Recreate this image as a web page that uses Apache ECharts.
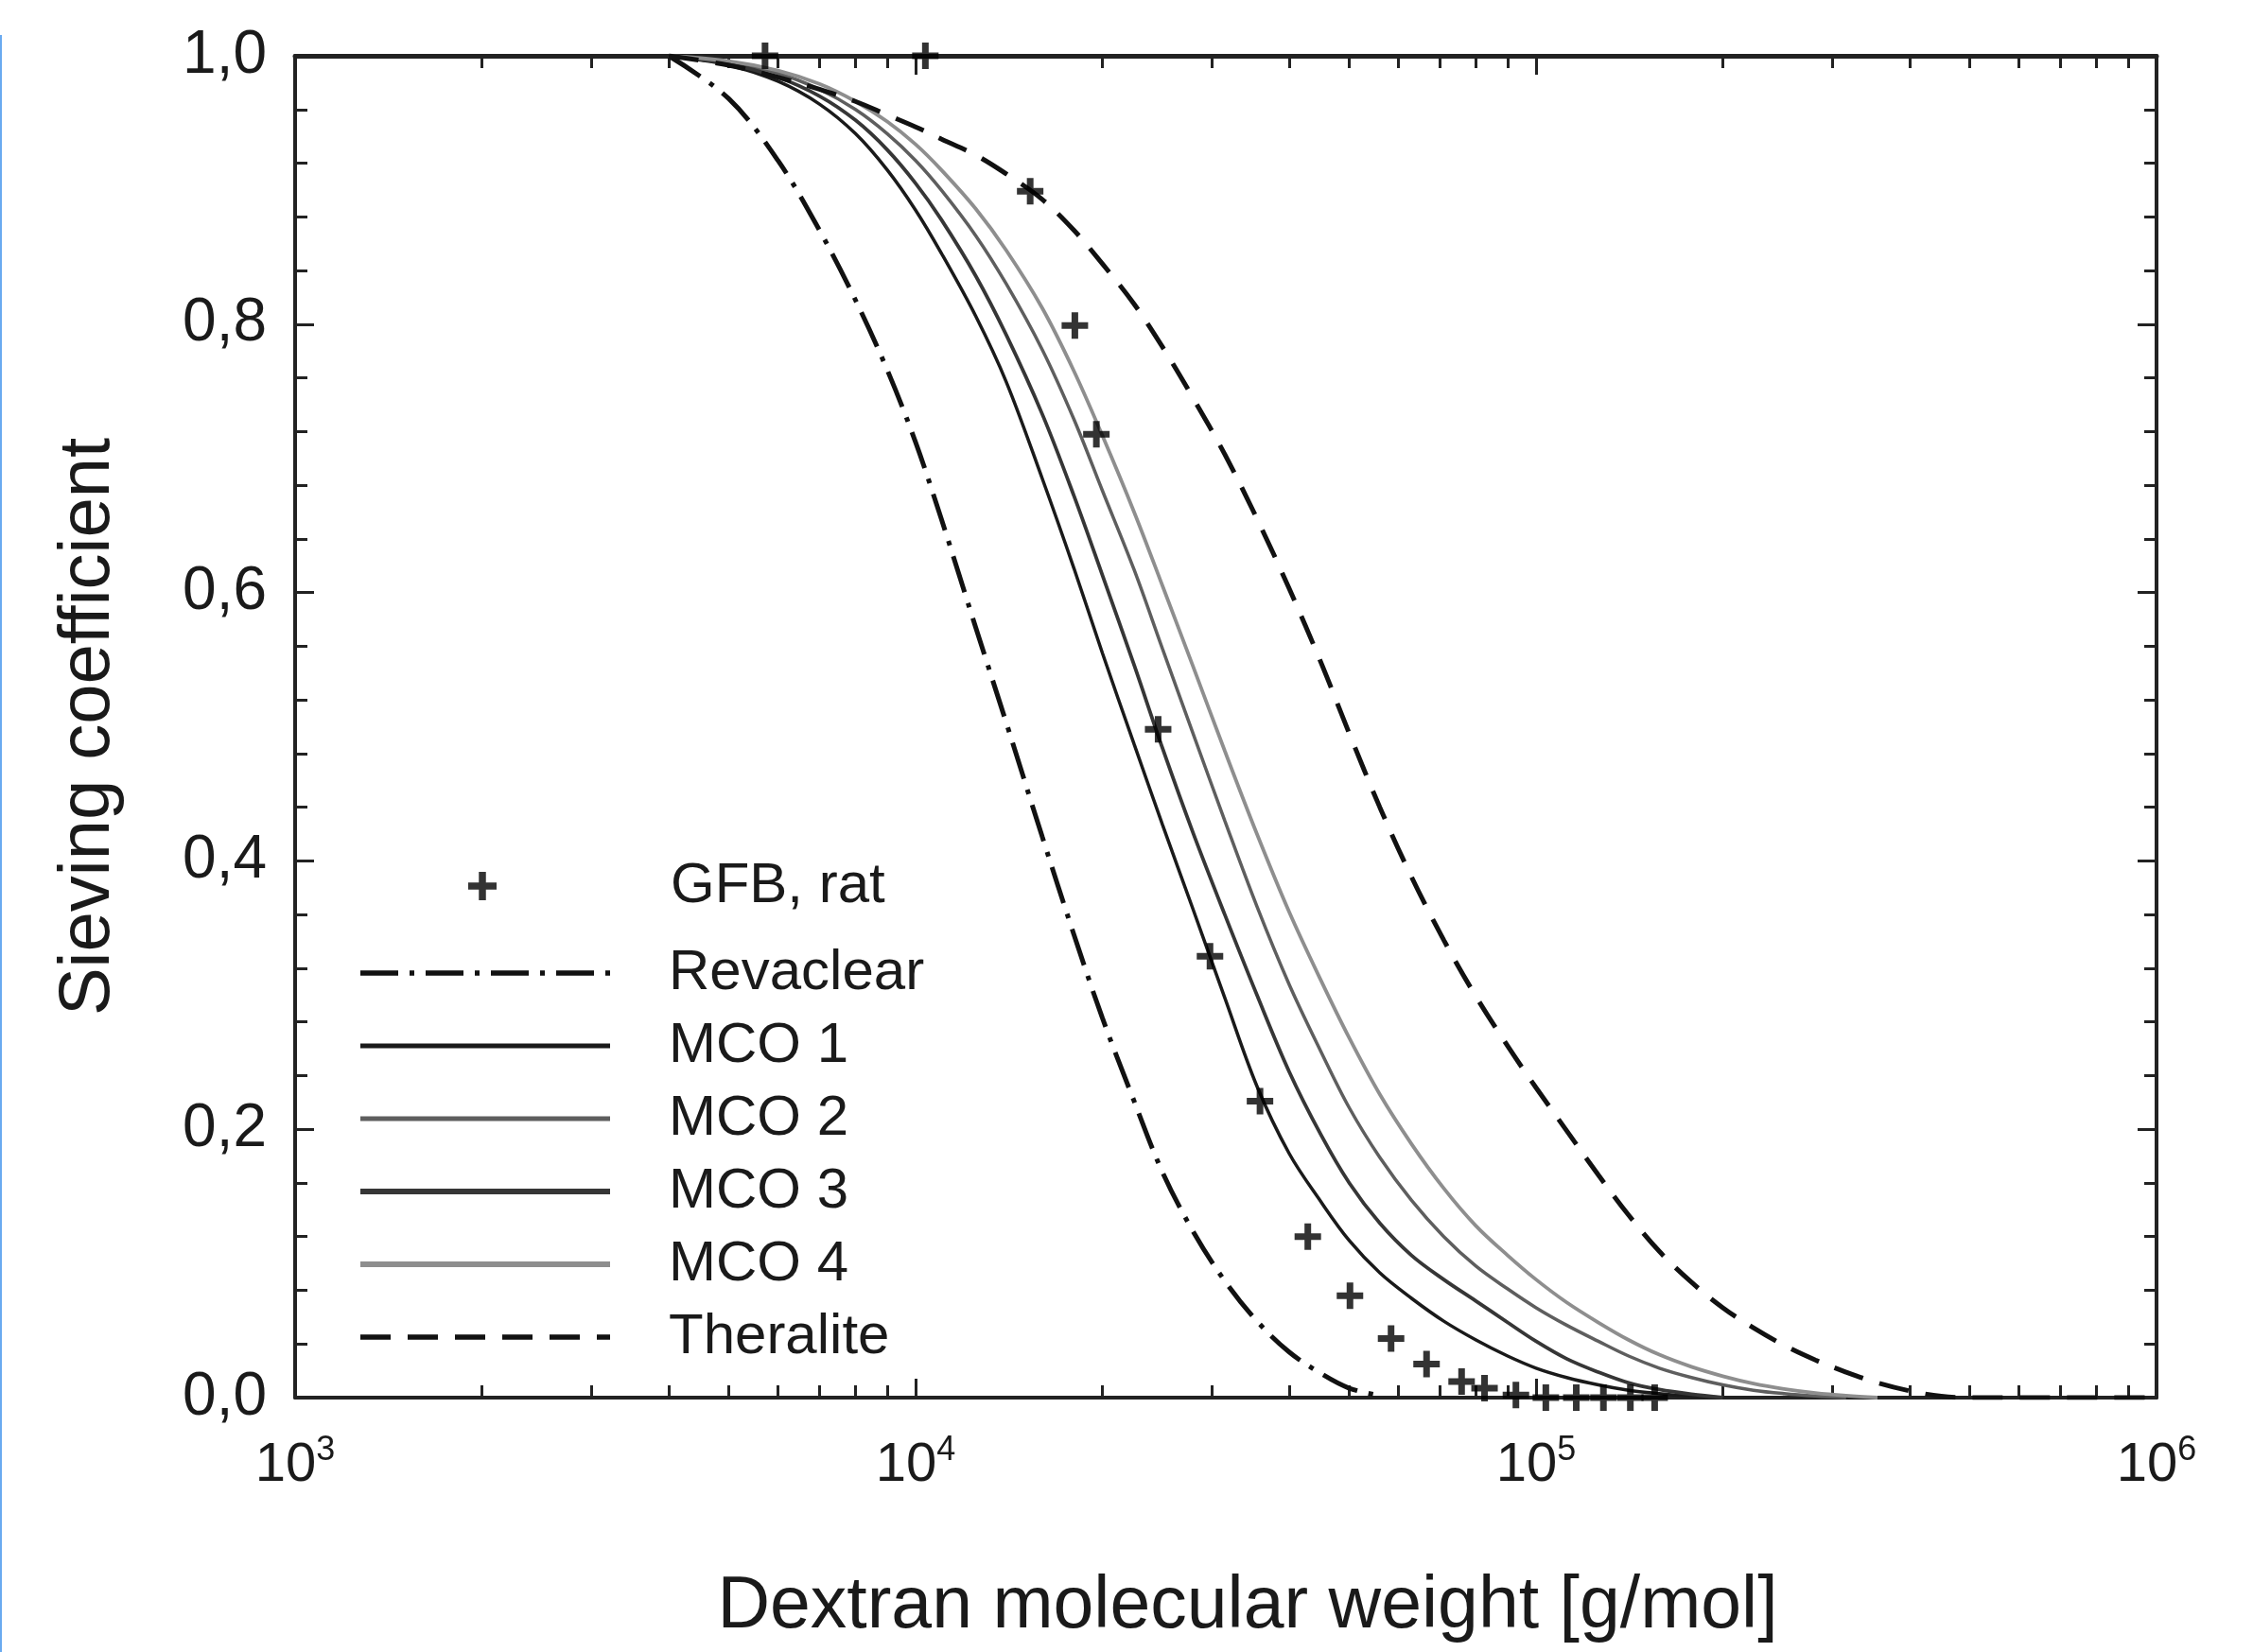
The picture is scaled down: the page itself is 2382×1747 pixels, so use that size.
<!DOCTYPE html>
<html><head><meta charset="utf-8">
<script src="https://cdn.jsdelivr.net/npm/echarts@6/dist/echarts.min.js"></script>
<style>html,body{margin:0;padding:0;background:#fff}#c{width:2382px;height:1747px}</style>
</head><body><div id="c"></div>
<script>
// ---- data ----
const mwGrid = [4000,5000,6000,7000,8000,9000,10000,11000,12500,14000,16000,18000,20000,22500,25000,28000,31500,35500,40000,45000,50000,56000,63000,71000,80000,90000,100000,112000,126000,141000,158000,178000,200000,224000,251000,282000,316000,355000,400000,450000,500000,630000,800000,1000000];

const revaclearS = [1.0,0.968,0.922,0.870,0.818,0.766,0.712,0.655,0.574,0.503,0.418,0.345,0.283,0.221,0.168,0.124,0.087,0.057,0.034,0.018,0.007,0.0015];
const mco1S = [1.0,0.993,0.981,0.964,0.942,0.915,0.885,0.853,0.806,0.757,0.685,0.618,0.555,0.487,0.427,0.364,0.298,0.232,0.182,0.146,0.117,0.093,0.074,0.057,0.043,0.031,0.022,0.015,0.0095,0.0055,0.003,0.001,0.0];
const mco3S = [1.0,0.994,0.984,0.97,0.952,0.93,0.905,0.878,0.836,0.792,0.733,0.672,0.613,0.546,0.484,0.421,0.36,0.3,0.243,0.196,0.16,0.13,0.106,0.088,0.072,0.056,0.042,0.029,0.019,0.011,0.006,0.0025,0.0];
const mco2S = [1.0,0.995,0.987,0.975,0.96,0.942,0.922,0.9,0.866,0.83,0.781,0.729,0.676,0.617,0.558,0.495,0.43,0.366,0.308,0.258,0.216,0.179,0.147,0.12,0.098,0.081,0.067,0.054,0.042,0.031,0.022,0.015,0.0095,0.0055,0.003,0.0012,0.0];
const mco4S = [1.0,0.996,0.989,0.979,0.966,0.951,0.934,0.915,0.886,0.855,0.812,0.765,0.717,0.66,0.605,0.545,0.482,0.42,0.362,0.311,0.268,0.226,0.189,0.156,0.128,0.106,0.088,0.071,0.056,0.043,0.032,0.023,0.016,0.0105,0.0065,0.0035,0.0015,0.0];
const theraliteS = [1.0,0.993,0.984,0.975,0.966,0.956,0.947,0.938,0.926,0.912,0.893,0.87,0.845,0.815,0.783,0.745,0.703,0.655,0.603,0.548,0.495,0.44,0.388,0.341,0.299,0.262,0.231,0.199,0.166,0.136,0.109,0.086,0.067,0.052,0.039,0.028,0.019,0.011,0.005,0.001,0.0,0.0,0.0,0.0];

const gfbMW = [5720,10370,15300,18060,19560,24600,29820,35900,42870,50130,58390,66610,75860,82600,92800,103700,116100,128400,141900,155300];
const gfbS  = [1.0,1.0,0.899,0.799,0.718,0.498,0.329,0.221,0.12,0.076,0.044,0.025,0.012,0.007,0.002,0.0,0.0,0.0,0.0,0.0];

const xMajorTicks = [1000,10000,100000,1000000];
const xTickExponents = ['3','4','5','6'];
const xMinorTicks = [2000,3000,4000,5000,6000,7000,8000,9000,20000,30000,40000,50000,60000,70000,80000,90000,200000,300000,400000,500000,600000,700000,800000,900000];
const yTickValues = [0,0.2,0.4,0.6,0.8,1.0];

// ---- chart ----
const FONT = '"Liberation Sans", Arial, Helvetica, sans-serif';
const AX = '#222222';
const crossPath = 'path://M-1.25,-5L1.25,-5L1.25,-1.25L5,-1.25L5,1.25L1.25,1.25L1.25,5L-1.25,5L-1.25,1.25L-5,1.25L-5,-1.25L-1.25,-1.25Z';
function pairs(xs, ys){ return ys.map((y,i)=>[xs[i], y]); }

const chart = echarts.init(document.getElementById('c'), null, {renderer:'canvas', width:2382, height:1747});

const xBase = {type:'log', logBase:10, min:xMajorTicks[0], max:xMajorTicks[xMajorTicks.length-1], gridIndex:0, splitLine:{show:false}};
const yBase = {type:'value', min:yTickValues[0], max:yTickValues[yTickValues.length-1], interval:0.2, gridIndex:0, splitLine:{show:false}};

function lineSeries(name, ys, color, width, type){
  return {
    name, type:'line', xAxisIndex:0, yAxisIndex:0,
    data: pairs(mwGrid, ys),
    showSymbol:false, symbol:'none', smooth:0.35,
    itemStyle:{color},
    lineStyle:{color, width, type},
    z:3, silent:true
  };
}
function legendLine(name, width){
  return {name, itemStyle:{opacity:0}, lineStyle:{width}};
}
const legendText = {fontSize:60, color:'#1a1a1a', fontFamily:FONT, lineHeight:60};

const option = {
  backgroundColor:'#ffffff',
  animation:false,
  textStyle:{fontFamily:FONT},
  grid:{left:312, right:102, top:59, bottom:269, containLabel:false, outerBoundsMode:'none'},
  legend:[
    {
      orient:'vertical', left:495, top:907, padding:0, align:'left',
      itemWidth:30, itemHeight:30, itemGap:17,
      symbolKeepAspect:true, selectedMode:false,
      textStyle:Object.assign({}, legendText, {padding:[0,0,0,179]}),
      data:[{name:'GFB, rat'}]
    },
    {
      orient:'vertical', left:378, top:999, padding:0, align:'left',
      itemWidth:264, itemHeight:30, itemGap:17,
      symbolKeepAspect:true, selectedMode:false,
      textStyle:Object.assign({}, legendText, {padding:[0,0,0,57]}),
      data:[legendLine('Revaclear',5.5), legendLine('MCO 1',5), legendLine('MCO 2',5), legendLine('MCO 3',6), legendLine('MCO 4',6), legendLine('Theralite',5.5)]
    }
  ],
  xAxis:[
    Object.assign({}, xBase, {
      position:'bottom',
      axisLine:{show:true, onZero:false, lineStyle:{color:AX, width:4}},
      axisTick:{show:true, inside:true, length:20, lineStyle:{color:AX, width:3}},
      axisLabel:{show:true, margin:38, color:'#1a1a1a',
        formatter:function(v){
          const i = xMajorTicks.findIndex(t => Math.abs(t - v) / t < 1e-6);
          return i < 0 ? '' : '{b|10}{s|' + xTickExponents[i] + '}';
        },
        rich:{b:{fontSize:58, fontFamily:FONT, color:'#1a1a1a'}, s:{fontSize:36, fontFamily:FONT, color:'#1a1a1a', padding:[0,0,32,0]}}
      },
      name:'Dextran molecular weight [g/mol]', nameLocation:'middle', nameGap:183,
      nameTextStyle:{fontSize:77, color:'#1a1a1a', fontFamily:FONT, padding:[0,0,0,46]}
    }),
    Object.assign({}, xBase, {
      position:'bottom',
      axisLine:{show:false, onZero:false},
      axisTick:{show:true, inside:true, length:13, customValues:xMinorTicks, lineStyle:{color:AX, width:3}},
      axisLabel:{show:false}
    }),
    Object.assign({}, xBase, {
      position:'top',
      axisLine:{show:true, onZero:false, lineStyle:{color:AX, width:5}},
      axisTick:{show:true, inside:true, length:20, lineStyle:{color:AX, width:3}},
      axisLabel:{show:false}
    }),
    Object.assign({}, xBase, {
      position:'top',
      axisLine:{show:false, onZero:false},
      axisTick:{show:true, inside:true, length:13, customValues:xMinorTicks, lineStyle:{color:AX, width:3}},
      axisLabel:{show:false}
    })
  ],
  yAxis:[
    Object.assign({}, yBase, {
      position:'left',
      axisLine:{show:true, onZero:false, lineStyle:{color:AX, width:4}},
      axisTick:{show:true, inside:true, length:20, lineStyle:{color:AX, width:3}},
      minorTick:{show:true, splitNumber:5, length:13, lineStyle:{color:AX, width:3}},
      axisLabel:{show:true, margin:30, fontSize:64, color:'#1a1a1a', fontFamily:FONT,
        formatter:v => v.toFixed(1).replace('.', ',')},
      name:'Sieving coefficient', nameLocation:'middle', nameRotate:90, nameGap:180,
      nameTextStyle:{fontSize:76, color:'#1a1a1a', fontFamily:FONT}
    }),
    Object.assign({}, yBase, {
      position:'right',
      axisLine:{show:true, onZero:false, lineStyle:{color:AX, width:4}},
      axisTick:{show:true, inside:true, length:20, lineStyle:{color:AX, width:3}},
      minorTick:{show:true, splitNumber:5, length:13, lineStyle:{color:AX, width:3}},
      axisLabel:{show:false}
    })
  ],
  graphic:[
    {type:'rect', left:0, top:37, shape:{width:2, height:1710}, style:{fill:'#6aaaf0'}, silent:true}
  ],
  series:[
    {
      name:'GFB, rat', type:'scatter', xAxisIndex:0, yAxisIndex:0,
      data: pairs(gfbMW, gfbS),
      symbol:crossPath, symbolSize:28, symbolKeepAspect:true,
      itemStyle:{color:'#000000'}, z:5, silent:true
    },
    lineSeries('Revaclear', revaclearS, '#111111', 5, [40,12,5,12]),
    lineSeries('MCO 1', mco1S, '#1a1a1a', 3.5, 'solid'),
    lineSeries('MCO 2', mco2S, '#5e5e5e', 3.5, 'solid'),
    lineSeries('MCO 3', mco3S, '#363636', 3.8, 'solid'),
    lineSeries('MCO 4', mco4S, '#8e8e8e', 3.8, 'solid'),
    lineSeries('Theralite', theraliteS, '#111111', 5, [32,18])
  ]
};
chart.setOption(option);
</script>
</body></html>
